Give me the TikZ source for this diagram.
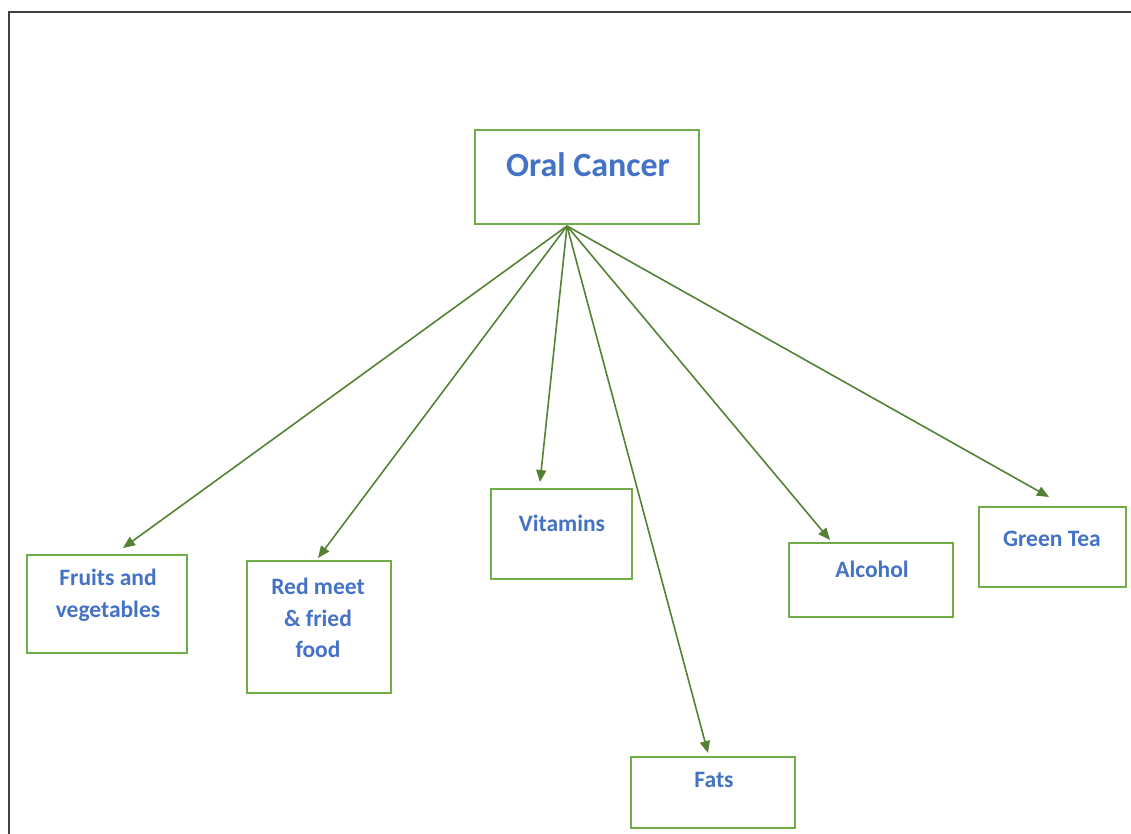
\documentclass[tikz,border=0pt]{standalone}
\usepackage{fontspec}
\setmainfont{Carlito}
\usetikzlibrary{arrows.meta}
\definecolor{txtblue}{HTML}{4472C4}
\definecolor{boxgreen}{HTML}{70AD47}
\definecolor{arrgreen}{HTML}{548235}
\definecolor{framegray}{HTML}{404040}
\tikzset{
  box/.style={draw=boxgreen, line width=2pt, fill=white, inner sep=0pt, anchor=center},
  lbl/.style={text=txtblue, font=\fontsize{23.5}{31.5}\selectfont\bfseries, align=center, inner sep=0pt, anchor=center},
  biglbl/.style={text=txtblue, font=\fontsize{34}{40}\selectfont\bfseries, inner sep=0pt, anchor=center},
  conn/.style={draw=arrgreen, line width=1.6pt, -{Triangle[length=12pt,width=10pt]}},
}
\begin{document}
\begin{tikzpicture}[x=1pt,y=-1pt]
\useasboundingbox (0,0) rectangle (1131,834);
\draw[framegray, line width=2.5pt] (9,834) -- (9,12) -- (1131,12);
% boxes
\node[box, minimum width=224pt, minimum height=94pt] (oral) at (587,177) {};
\node[box, minimum width=160pt, minimum height=98pt] (fruits) at (107,604) {};
\node[box, minimum width=144pt, minimum height=132pt] (red) at (319,627) {};
\node[box, minimum width=141pt, minimum height=90pt] (vit) at (561.5,534) {};
\node[box, minimum width=164pt, minimum height=71pt] (fats) at (713,792.5) {};
\node[box, minimum width=164pt, minimum height=74pt] (alc) at (871,580) {};
\node[box, minimum width=147pt, minimum height=80pt] (tea) at (1052.5,547) {};
% labels
\node[biglbl] (toral) at (588,165) {Oral Cancer};
\node[lbl] (tfruits) at (108,595) {Fruits and\\vegetables};
\node[lbl] (tred) at (318,618) {Red meet\\\& fried\\food};
\node[lbl] (tvit) at (562,523) {Vitamins};
\node[lbl] (tfats) at (714,780) {Fats};
\node[lbl] (talc) at (872,569) {Alcohol};
\node[lbl] (ttea) at (1052,539) {Green Tea};
% connector ends
\coordinate (src) at (567,226);
\coordinate (eF) at (123,548);
\coordinate (eR) at (318,558);
\coordinate (eV) at (540,482);
\coordinate (eFa) at (708,753);
\coordinate (eA) at (830,540);
\coordinate (eT) at (1049,497);
\draw[conn] (src) -- (eF);
\draw[conn] (src) -- (eR);
\draw[conn] (src) -- (eV);
\draw[conn] (src) -- (eFa);
\draw[conn] (src) -- (eA);
\draw[conn] (src) -- (eT);
\end{tikzpicture}
\end{document}
